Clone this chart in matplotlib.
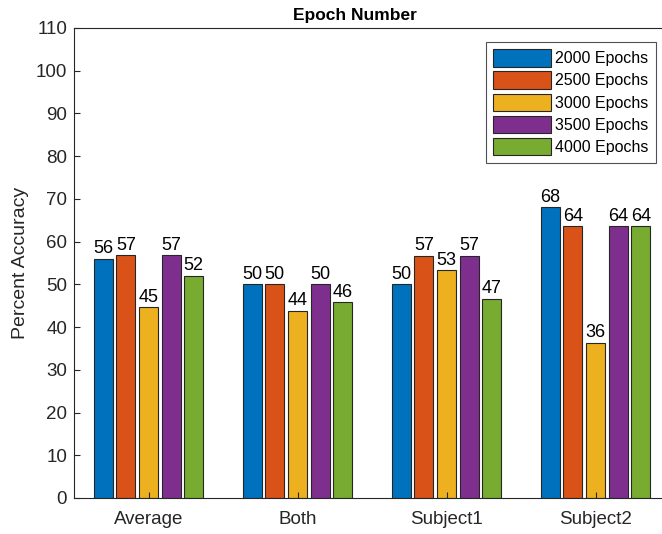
import matplotlib
matplotlib.use("Agg")
import matplotlib.pyplot as plt
import numpy as np

plt.rcParams['font.family'] = ['Liberation Sans', 'DejaVu Sans']

categories = ["Average", "Both", "Subject1", "Subject2"]
series_names = ["2000 Epochs", "2500 Epochs", "3000 Epochs", "3500 Epochs", "4000 Epochs"]
epochs_2000 = [56.0, 50.0, 50.0, 68.0]
epochs_2500 = [56.8, 50.0, 56.6, 63.6]
epochs_3000 = [44.6, 43.8, 53.3, 36.3]
epochs_3500 = [56.8, 50.0, 56.6, 63.6]
epochs_4000 = [52.0, 45.8, 46.6, 63.6]
series = [epochs_2000, epochs_2500, epochs_3000, epochs_3500, epochs_4000]
colors = ["#0072BD", "#D95319", "#EDB120", "#7E2F8E", "#77AC30"]

fig = plt.figure(figsize=(6.62, 5.34), dpi=100)
ax = fig.add_axes([74/662, 36/534, 596/662, 470/534])

x = np.arange(1, len(categories) + 1)
step = 0.152
bw = 0.128
for i, (vals, name, c) in enumerate(zip(series, series_names, colors)):
    pos = x + (i - 2) * step
    ax.bar(pos, vals, width=bw, color=c, edgecolor="#262626", linewidth=0.8, label=name)
    for p, v in zip(pos, vals):
        ax.text(p, v + 0.4, f"{round(v):d}", ha="center", va="bottom", fontsize=13, color="black")

ax.set_xlim(0.5, 4.5)
ax.set_ylim(0, 110)
ax.set_yticks(np.arange(0, 111, 10))
ax.set_xticks(x)
ax.set_xticklabels(categories)
ax.tick_params(direction="in", labelsize=13.5, length=4, colors="#262626", top=False, right=False)
ax.tick_params(axis="x", pad=9)
ax.tick_params(axis="y", pad=5)
for s in ax.spines.values():
    s.set_color("#262626")
    s.set_linewidth(0.8)
ax.spines["right"].set_visible(False)
ax.set_ylabel("Percent Accuracy", fontsize=14, color="#262626", labelpad=5)
ax.set_title("Epoch Number", fontsize=12.5, fontweight="bold", pad=6, x=(355-74)/596)

leg = ax.legend(loc="upper right", bbox_to_anchor=(656/662, 1 - 42/534),
                bbox_transform=fig.transFigure, borderaxespad=0,
                fontsize=11.5, frameon=True, fancybox=False,
                edgecolor="#262626", handlelength=3.6, handleheight=1.3,
                labelspacing=0.3, handletextpad=0.3, borderpad=0.45)
leg.get_frame().set_linewidth(0.8)

fig.savefig("out.png", dpi=100)
